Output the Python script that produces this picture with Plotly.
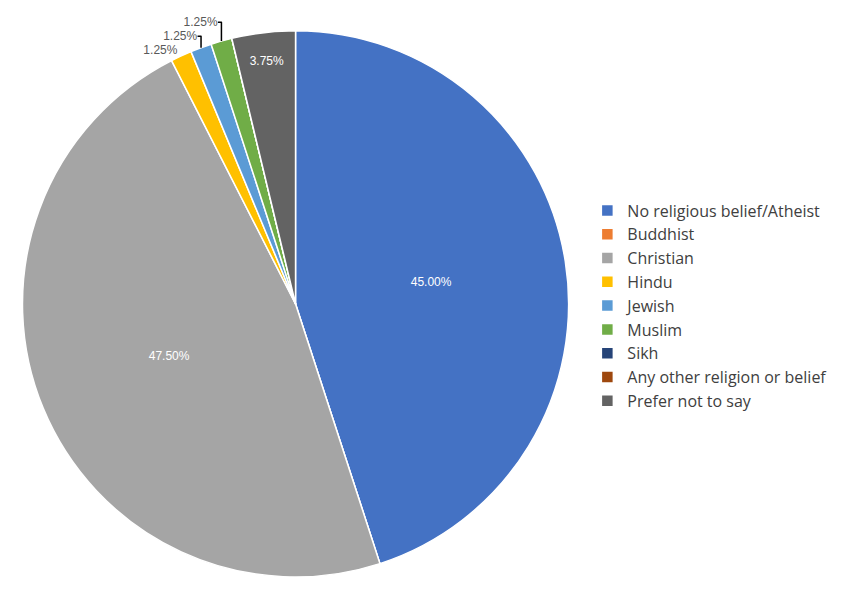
import plotly.graph_objects as go

labels = ["No religious belief/Atheist", "Buddhist", "Christian", "Hindu", "Jewish",
          "Muslim", "Sikh", "Any other religion or belief", "Prefer not to say"]
values = [45.0, 0.0, 47.5, 1.25, 1.25, 1.25, 0.0, 0.0, 3.75]
colors = ["#4472C4", "#ED7D31", "#A5A5A5", "#FFC000", "#5B9BD5",
          "#70AD47", "#264478", "#9E480E", "#636363"]

text = [f"{v:.2f}%" if v > 0 else "" for v in values]
positions = ["inside" if v > 3 else "outside" for v in values]
text_colors = ["white" if v > 3 else "#595959" for v in values]

fig = go.Figure(go.Pie(
    labels=labels, values=values, text=text, textinfo="text",
    textposition=positions, sort=False, direction="clockwise", rotation=0,
    marker=dict(colors=colors, line=dict(color="white", width=1.5)),
    textfont=dict(family="Liberation Sans", size=12, color=text_colors),
    insidetextorientation="horizontal",
    domain=dict(x=[0.017, 0.658], y=[0.045, 0.962]),
    hoverinfo="label+percent",
))

fig.update_layout(
    width=852, height=596,
    margin=dict(l=0, r=0, t=0, b=0),
    paper_bgcolor="white",
    showlegend=True,
    legend=dict(x=0.68, y=0.5, xanchor="left", yanchor="middle",
                font=dict(family="Open Sans", size=16, color="#404040"),
                itemwidth=30),
)

fig.write_html("out.html")
